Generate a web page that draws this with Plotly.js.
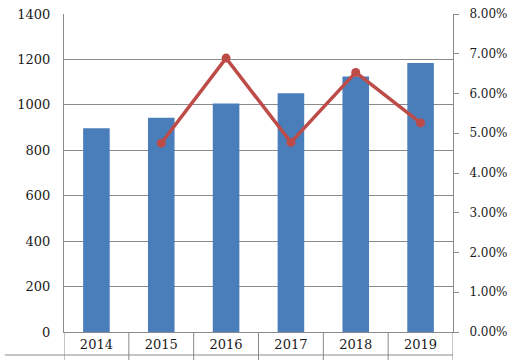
<!DOCTYPE html>
<html><head><meta charset="utf-8">
<script src="https://cdn.plot.ly/plotly-3.0.1.min.js"></script>
<style>html,body{margin:0;padding:0;background:#fff}#chart{width:518px;height:360px}</style>
</head><body><div id="chart"></div>
<script>
const years = ['2014','2015','2016','2017','2018','2019'];
const values = [897, 943, 1006, 1051, 1125, 1184];
const rateYears = ['2015','2016','2017','2018','2019'];
const rates = [0.0475, 0.0689, 0.0477, 0.0653, 0.0526];

const gridColor = '#8a8a8a';
const font = {family: 'DejaVu Serif', size: 13, color: '#1a1a1a'};
const rightFont = {family: 'DejaVu Serif', size: 12, color: '#1a1a1a'};

const shapes = [];
for (let i = 0; i <= years.length; i++) {
  shapes.push({type: 'line', xref: 'x', yref: 'paper', x0: i - 0.5, x1: i - 0.5, y0: -0.1, y1: 0,
    line: {color: gridColor, width: 1}});
}
shapes.push({type: 'line', xref: 'paper', yref: 'paper', x0: -0.152, x1: 1, y0: -0.0723, y1: -0.0723,
  line: {color: gridColor, width: 1}});

const data = [
  {type: 'bar', x: years, y: values, marker: {color: '#4a7ebb'}, width: 0.41, hoverinfo: 'skip'},
  {type: 'scatter', mode: 'lines+markers', x: rateYears, y: rates, yaxis: 'y2',
    line: {color: '#bd4b48', width: 3.5}, marker: {color: '#bd4b48', size: 9}}
];

const layout = {
  width: 518, height: 360,
  margin: {l: 64, r: 65, t: 14, b: 28},
  showlegend: false,
  paper_bgcolor: '#fff', plot_bgcolor: '#fff',
  font: font,
  xaxis: {type: 'category', showline: true, linecolor: gridColor, linewidth: 1, ticks: '',
    showgrid: false, tickfont: font, range: [-0.5, 5.5], fixedrange: true},
  yaxis: {range: [0, 1400], dtick: 200, showgrid: true, gridcolor: gridColor, gridwidth: 1,
    showline: true, linecolor: gridColor, ticks: '', ticklabelstandoff: 10, tickfont: font,
    zeroline: false, fixedrange: true},
  yaxis2: {overlaying: 'y', side: 'right', range: [0, 0.08], dtick: 0.01, tickformat: '.2%',
    showgrid: false, showline: true, linecolor: gridColor, ticks: 'outside', ticklen: 5,
    tickcolor: gridColor, ticklabelstandoff: 8, tickfont: rightFont, zeroline: false, fixedrange: true},
  shapes: shapes
};

Plotly.newPlot('chart', data, layout, {displayModeBar: false, staticPlot: true});
</script>
</body></html>
